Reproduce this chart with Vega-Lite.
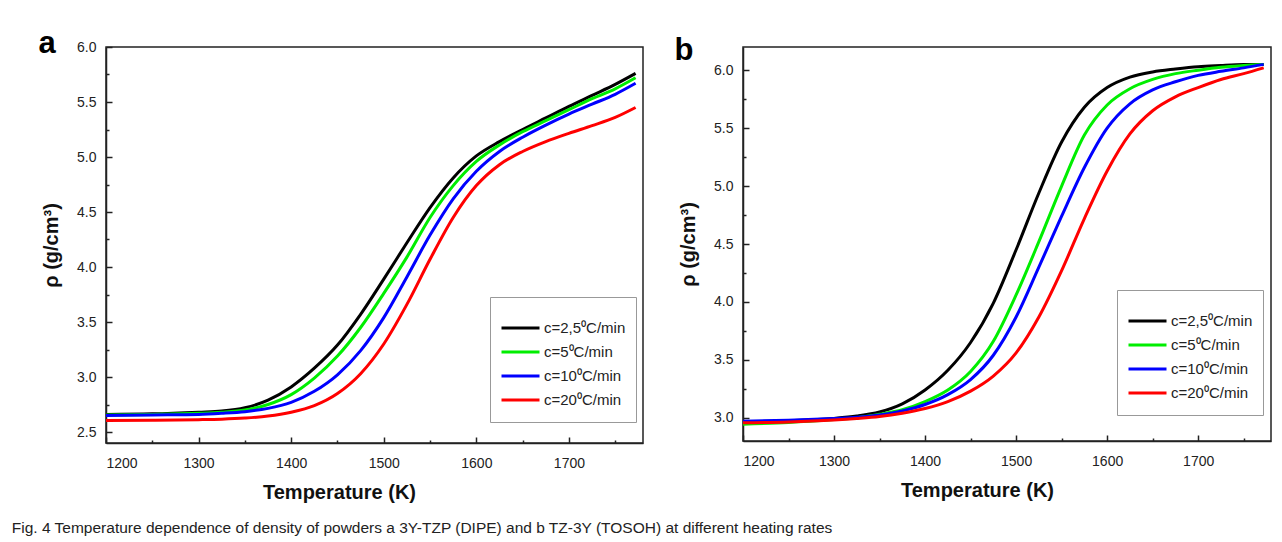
{
  "$schema": "https://vega.github.io/schema/vega-lite/v6.json",
  "background": "white",
  "padding": {"left": 11, "top": 27, "right": 5, "bottom": 5},
  "spacing": 29,
  "title": {
    "text": "Fig. 4 Temperature dependence of density of powders a 3Y-TZP (DIPE) and b TZ-3Y (TOSOH) at different heating rates",
    "orient": "bottom", "anchor": "start", "frame": "bounds",
    "font": "Liberation Sans", "fontSize": 15.5, "fontWeight": "normal",
    "color": "#222", "offset": 18, "dx": -26
  },
  "datasets": {
    "a": [
      {"T":1200,"rho":2.66,"c":"c=2,5\u2070C/min"},{"T":1250,"rho":2.665,"c":"c=2,5\u2070C/min"},{"T":1300,"rho":2.68,"c":"c=2,5\u2070C/min"},{"T":1325,"rho":2.69,"c":"c=2,5\u2070C/min"},{"T":1350,"rho":2.72,"c":"c=2,5\u2070C/min"},{"T":1375,"rho":2.79,"c":"c=2,5\u2070C/min"},{"T":1400,"rho":2.91,"c":"c=2,5\u2070C/min"},{"T":1425,"rho":3.08,"c":"c=2,5\u2070C/min"},{"T":1450,"rho":3.29,"c":"c=2,5\u2070C/min"},{"T":1475,"rho":3.57,"c":"c=2,5\u2070C/min"},{"T":1500,"rho":3.89,"c":"c=2,5\u2070C/min"},{"T":1525,"rho":4.22,"c":"c=2,5\u2070C/min"},{"T":1550,"rho":4.54,"c":"c=2,5\u2070C/min"},{"T":1575,"rho":4.81,"c":"c=2,5\u2070C/min"},{"T":1600,"rho":5.01,"c":"c=2,5\u2070C/min"},{"T":1625,"rho":5.14,"c":"c=2,5\u2070C/min"},{"T":1650,"rho":5.25,"c":"c=2,5\u2070C/min"},{"T":1675,"rho":5.355,"c":"c=2,5\u2070C/min"},{"T":1700,"rho":5.46,"c":"c=2,5\u2070C/min"},{"T":1725,"rho":5.56,"c":"c=2,5\u2070C/min"},{"T":1750,"rho":5.66,"c":"c=2,5\u2070C/min"},{"T":1772,"rho":5.76,"c":"c=2,5\u2070C/min"},
      {"T":1200,"rho":2.655,"c":"c=5\u2070C/min"},{"T":1250,"rho":2.66,"c":"c=5\u2070C/min"},{"T":1300,"rho":2.67,"c":"c=5\u2070C/min"},{"T":1325,"rho":2.68,"c":"c=5\u2070C/min"},{"T":1350,"rho":2.70,"c":"c=5\u2070C/min"},{"T":1375,"rho":2.75,"c":"c=5\u2070C/min"},{"T":1400,"rho":2.84,"c":"c=5\u2070C/min"},{"T":1425,"rho":2.99,"c":"c=5\u2070C/min"},{"T":1450,"rho":3.19,"c":"c=5\u2070C/min"},{"T":1475,"rho":3.45,"c":"c=5\u2070C/min"},{"T":1500,"rho":3.76,"c":"c=5\u2070C/min"},{"T":1525,"rho":4.09,"c":"c=5\u2070C/min"},{"T":1550,"rho":4.45,"c":"c=5\u2070C/min"},{"T":1575,"rho":4.74,"c":"c=5\u2070C/min"},{"T":1600,"rho":4.96,"c":"c=5\u2070C/min"},{"T":1625,"rho":5.11,"c":"c=5\u2070C/min"},{"T":1650,"rho":5.23,"c":"c=5\u2070C/min"},{"T":1675,"rho":5.33,"c":"c=5\u2070C/min"},{"T":1700,"rho":5.43,"c":"c=5\u2070C/min"},{"T":1725,"rho":5.53,"c":"c=5\u2070C/min"},{"T":1750,"rho":5.62,"c":"c=5\u2070C/min"},{"T":1772,"rho":5.72,"c":"c=5\u2070C/min"},
      {"T":1200,"rho":2.65,"c":"c=10\u2070C/min"},{"T":1250,"rho":2.655,"c":"c=10\u2070C/min"},{"T":1300,"rho":2.66,"c":"c=10\u2070C/min"},{"T":1325,"rho":2.67,"c":"c=10\u2070C/min"},{"T":1350,"rho":2.685,"c":"c=10\u2070C/min"},{"T":1375,"rho":2.715,"c":"c=10\u2070C/min"},{"T":1400,"rho":2.77,"c":"c=10\u2070C/min"},{"T":1425,"rho":2.87,"c":"c=10\u2070C/min"},{"T":1450,"rho":3.02,"c":"c=10\u2070C/min"},{"T":1475,"rho":3.24,"c":"c=10\u2070C/min"},{"T":1500,"rho":3.54,"c":"c=10\u2070C/min"},{"T":1525,"rho":3.91,"c":"c=10\u2070C/min"},{"T":1550,"rho":4.29,"c":"c=10\u2070C/min"},{"T":1575,"rho":4.62,"c":"c=10\u2070C/min"},{"T":1600,"rho":4.87,"c":"c=10\u2070C/min"},{"T":1625,"rho":5.05,"c":"c=10\u2070C/min"},{"T":1650,"rho":5.18,"c":"c=10\u2070C/min"},{"T":1675,"rho":5.29,"c":"c=10\u2070C/min"},{"T":1700,"rho":5.39,"c":"c=10\u2070C/min"},{"T":1725,"rho":5.48,"c":"c=10\u2070C/min"},{"T":1750,"rho":5.57,"c":"c=10\u2070C/min"},{"T":1772,"rho":5.67,"c":"c=10\u2070C/min"},
      {"T":1200,"rho":2.605,"c":"c=20\u2070C/min"},{"T":1250,"rho":2.607,"c":"c=20\u2070C/min"},{"T":1300,"rho":2.612,"c":"c=20\u2070C/min"},{"T":1325,"rho":2.617,"c":"c=20\u2070C/min"},{"T":1350,"rho":2.627,"c":"c=20\u2070C/min"},{"T":1375,"rho":2.645,"c":"c=20\u2070C/min"},{"T":1400,"rho":2.68,"c":"c=20\u2070C/min"},{"T":1425,"rho":2.74,"c":"c=20\u2070C/min"},{"T":1450,"rho":2.85,"c":"c=20\u2070C/min"},{"T":1475,"rho":3.03,"c":"c=20\u2070C/min"},{"T":1500,"rho":3.30,"c":"c=20\u2070C/min"},{"T":1525,"rho":3.66,"c":"c=20\u2070C/min"},{"T":1550,"rho":4.07,"c":"c=20\u2070C/min"},{"T":1575,"rho":4.45,"c":"c=20\u2070C/min"},{"T":1600,"rho":4.74,"c":"c=20\u2070C/min"},{"T":1625,"rho":4.93,"c":"c=20\u2070C/min"},{"T":1650,"rho":5.05,"c":"c=20\u2070C/min"},{"T":1675,"rho":5.14,"c":"c=20\u2070C/min"},{"T":1700,"rho":5.215,"c":"c=20\u2070C/min"},{"T":1725,"rho":5.285,"c":"c=20\u2070C/min"},{"T":1750,"rho":5.36,"c":"c=20\u2070C/min"},{"T":1772,"rho":5.45,"c":"c=20\u2070C/min"}
    ],
    "b": [
      {"T":1200,"rho":2.965,"c":"c=2,5\u2070C/min"},{"T":1250,"rho":2.975,"c":"c=2,5\u2070C/min"},{"T":1300,"rho":2.995,"c":"c=2,5\u2070C/min"},{"T":1325,"rho":3.015,"c":"c=2,5\u2070C/min"},{"T":1350,"rho":3.05,"c":"c=2,5\u2070C/min"},{"T":1375,"rho":3.12,"c":"c=2,5\u2070C/min"},{"T":1400,"rho":3.24,"c":"c=2,5\u2070C/min"},{"T":1425,"rho":3.41,"c":"c=2,5\u2070C/min"},{"T":1450,"rho":3.65,"c":"c=2,5\u2070C/min"},{"T":1475,"rho":3.99,"c":"c=2,5\u2070C/min"},{"T":1500,"rho":4.45,"c":"c=2,5\u2070C/min"},{"T":1525,"rho":4.94,"c":"c=2,5\u2070C/min"},{"T":1550,"rho":5.38,"c":"c=2,5\u2070C/min"},{"T":1575,"rho":5.68,"c":"c=2,5\u2070C/min"},{"T":1600,"rho":5.85,"c":"c=2,5\u2070C/min"},{"T":1625,"rho":5.94,"c":"c=2,5\u2070C/min"},{"T":1650,"rho":5.985,"c":"c=2,5\u2070C/min"},{"T":1675,"rho":6.01,"c":"c=2,5\u2070C/min"},{"T":1700,"rho":6.03,"c":"c=2,5\u2070C/min"},{"T":1725,"rho":6.04,"c":"c=2,5\u2070C/min"},{"T":1750,"rho":6.048,"c":"c=2,5\u2070C/min"},{"T":1772,"rho":6.05,"c":"c=2,5\u2070C/min"},
      {"T":1200,"rho":2.945,"c":"c=5\u2070C/min"},{"T":1250,"rho":2.96,"c":"c=5\u2070C/min"},{"T":1300,"rho":2.985,"c":"c=5\u2070C/min"},{"T":1325,"rho":3.0,"c":"c=5\u2070C/min"},{"T":1350,"rho":3.03,"c":"c=5\u2070C/min"},{"T":1375,"rho":3.07,"c":"c=5\u2070C/min"},{"T":1400,"rho":3.14,"c":"c=5\u2070C/min"},{"T":1425,"rho":3.24,"c":"c=5\u2070C/min"},{"T":1450,"rho":3.40,"c":"c=5\u2070C/min"},{"T":1475,"rho":3.66,"c":"c=5\u2070C/min"},{"T":1500,"rho":4.06,"c":"c=5\u2070C/min"},{"T":1525,"rho":4.52,"c":"c=5\u2070C/min"},{"T":1550,"rho":5.0,"c":"c=5\u2070C/min"},{"T":1575,"rho":5.44,"c":"c=5\u2070C/min"},{"T":1600,"rho":5.70,"c":"c=5\u2070C/min"},{"T":1625,"rho":5.84,"c":"c=5\u2070C/min"},{"T":1650,"rho":5.92,"c":"c=5\u2070C/min"},{"T":1675,"rho":5.97,"c":"c=5\u2070C/min"},{"T":1700,"rho":6.0,"c":"c=5\u2070C/min"},{"T":1725,"rho":6.025,"c":"c=5\u2070C/min"},{"T":1750,"rho":6.04,"c":"c=5\u2070C/min"},{"T":1772,"rho":6.05,"c":"c=5\u2070C/min"},
      {"T":1200,"rho":2.97,"c":"c=10\u2070C/min"},{"T":1250,"rho":2.98,"c":"c=10\u2070C/min"},{"T":1300,"rho":2.995,"c":"c=10\u2070C/min"},{"T":1325,"rho":3.005,"c":"c=10\u2070C/min"},{"T":1350,"rho":3.025,"c":"c=10\u2070C/min"},{"T":1375,"rho":3.06,"c":"c=10\u2070C/min"},{"T":1400,"rho":3.115,"c":"c=10\u2070C/min"},{"T":1425,"rho":3.20,"c":"c=10\u2070C/min"},{"T":1450,"rho":3.33,"c":"c=10\u2070C/min"},{"T":1475,"rho":3.54,"c":"c=10\u2070C/min"},{"T":1500,"rho":3.87,"c":"c=10\u2070C/min"},{"T":1525,"rho":4.30,"c":"c=10\u2070C/min"},{"T":1550,"rho":4.74,"c":"c=10\u2070C/min"},{"T":1575,"rho":5.16,"c":"c=10\u2070C/min"},{"T":1600,"rho":5.50,"c":"c=10\u2070C/min"},{"T":1625,"rho":5.71,"c":"c=10\u2070C/min"},{"T":1650,"rho":5.83,"c":"c=10\u2070C/min"},{"T":1675,"rho":5.90,"c":"c=10\u2070C/min"},{"T":1700,"rho":5.955,"c":"c=10\u2070C/min"},{"T":1725,"rho":5.99,"c":"c=10\u2070C/min"},{"T":1750,"rho":6.02,"c":"c=10\u2070C/min"},{"T":1772,"rho":6.05,"c":"c=10\u2070C/min"},
      {"T":1200,"rho":2.957,"c":"c=20\u2070C/min"},{"T":1250,"rho":2.965,"c":"c=20\u2070C/min"},{"T":1300,"rho":2.982,"c":"c=20\u2070C/min"},{"T":1325,"rho":2.995,"c":"c=20\u2070C/min"},{"T":1350,"rho":3.012,"c":"c=20\u2070C/min"},{"T":1375,"rho":3.04,"c":"c=20\u2070C/min"},{"T":1400,"rho":3.08,"c":"c=20\u2070C/min"},{"T":1425,"rho":3.14,"c":"c=20\u2070C/min"},{"T":1450,"rho":3.23,"c":"c=20\u2070C/min"},{"T":1475,"rho":3.36,"c":"c=20\u2070C/min"},{"T":1500,"rho":3.56,"c":"c=20\u2070C/min"},{"T":1525,"rho":3.87,"c":"c=20\u2070C/min"},{"T":1550,"rho":4.27,"c":"c=20\u2070C/min"},{"T":1575,"rho":4.72,"c":"c=20\u2070C/min"},{"T":1600,"rho":5.13,"c":"c=20\u2070C/min"},{"T":1625,"rho":5.45,"c":"c=20\u2070C/min"},{"T":1650,"rho":5.65,"c":"c=20\u2070C/min"},{"T":1675,"rho":5.77,"c":"c=20\u2070C/min"},{"T":1700,"rho":5.85,"c":"c=20\u2070C/min"},{"T":1725,"rho":5.92,"c":"c=20\u2070C/min"},{"T":1750,"rho":5.97,"c":"c=20\u2070C/min"},{"T":1772,"rho":6.02,"c":"c=20\u2070C/min"}
    ]
  },
  "hconcat": [
    {
      "title": {"text": "a", "anchor": "start", "frame": "bounds", "fontSize": 31, "fontWeight": "bold", "font": "Liberation Sans", "color": "#000", "offset": -20, "dx": -3},
      "width": 537,
      "height": 396,
      "data": {"name": "a"},
      "layer": [
        {
          "mark": {"type": "line", "strokeWidth": 3, "interpolate": "monotone"},
          "encoding": {
            "x": {"field": "T", "type": "quantitative", "scale": {"domain": [1200, 1780], "nice": false, "zero": false},
                  "axis": {"orient": "bottom", "values": [1200, 1300, 1400, 1500, 1600, 1700], "format": "d", "tickSize": -6, "labelPadding": 19, "title": "Temperature (K)", "titlePadding": 12, "titleX": 233, "titleAlign": "center"}},
            "y": {"field": "rho", "type": "quantitative", "scale": {"domain": [2.4, 6.0], "nice": false, "zero": false},
                  "axis": {"orient": "left", "values": [2.5, 3.0, 3.5, 4.0, 4.5, 5.0, 5.5, 6.0], "format": ".1f", "tickSize": -6, "labelPadding": 16, "title": "\u03c1 (g/cm\u00b3)", "titlePadding": 15}},
            "color": {"field": "c", "type": "nominal", "sort": null,
                      "scale": {"domain": ["c=2,5\u2070C/min", "c=5\u2070C/min", "c=10\u2070C/min", "c=20\u2070C/min"], "range": ["#000000", "#00ee00", "#0000ff", "#ff0000"]},
                      "legend": {"title": " ", "orient": "none", "legendX": 384, "legendY": 250}}
          }
        },
        {
          "mark": {"type": "point", "opacity": 0},
          "encoding": {
            "x": {"field": "T", "type": "quantitative",
                  "axis": {"orient": "bottom", "values": [1250, 1350, 1450, 1550, 1650, 1750], "labels": false, "domain": false, "tickSize": -3, "title": null}},
            "y": {"field": "rho", "type": "quantitative",
                  "axis": {"orient": "left", "values": [2.75, 3.25, 3.75, 4.25, 4.75, 5.25, 5.75], "labels": false, "domain": false, "tickSize": -3, "title": null}}
          }
        }
      ],
      "resolve": {"axis": {"x": "independent", "y": "independent"}}
    },
    {
      "title": {"text": "b", "anchor": "start", "frame": "bounds", "fontSize": 31, "fontWeight": "bold", "font": "Liberation Sans", "color": "#000", "offset": -20, "dx": -4},
      "width": 528,
      "height": 394,
      "data": {"name": "b"},
      "layer": [
        {
          "mark": {"type": "line", "strokeWidth": 3, "interpolate": "monotone"},
          "encoding": {
            "x": {"field": "T", "type": "quantitative", "scale": {"domain": [1200, 1780], "nice": false, "zero": false},
                  "axis": {"orient": "bottom", "values": [1200, 1300, 1400, 1500, 1600, 1700], "format": "d", "tickSize": -6, "labelPadding": 19, "title": "Temperature (K)", "titlePadding": 12, "titleX": 234, "titleAlign": "center"}},
            "y": {"field": "rho", "type": "quantitative", "scale": {"domain": [2.8, 6.2], "nice": false, "zero": false},
                  "axis": {"orient": "left", "values": [3.0, 3.5, 4.0, 4.5, 5.0, 5.5, 6.0], "format": ".1f", "tickSize": -6, "labelPadding": 16, "title": "\u03c1 (g/cm\u00b3)", "titlePadding": 15}},
            "color": {"field": "c", "type": "nominal", "sort": null,
                      "scale": {"domain": ["c=2,5\u2070C/min", "c=5\u2070C/min", "c=10\u2070C/min", "c=20\u2070C/min"], "range": ["#000000", "#00ee00", "#0000ff", "#ff0000"]},
                      "legend": {"title": " ", "orient": "none", "legendX": 374, "legendY": 243}}
          }
        },
        {
          "mark": {"type": "point", "opacity": 0},
          "encoding": {
            "x": {"field": "T", "type": "quantitative",
                  "axis": {"orient": "bottom", "values": [1250, 1350, 1450, 1550, 1650, 1750], "labels": false, "domain": false, "tickSize": -3, "title": null}},
            "y": {"field": "rho", "type": "quantitative",
                  "axis": {"orient": "left", "values": [3.25, 3.75, 4.25, 4.75, 5.25, 5.75], "labels": false, "domain": false, "tickSize": -3, "title": null}}
          }
        }
      ],
      "resolve": {"axis": {"x": "independent", "y": "independent"}}
    }
  ],
  "resolve": {"scale": {"color": "independent"}, "legend": {"color": "independent"}},
  "config": {
    "view": {"stroke": "#222", "strokeWidth": 1.5},
    "font": "Liberation Sans",
    "axis": {
      "labelFont": "Liberation Sans", "labelFontSize": 14, "labelColor": "#222",
      "titleFont": "Liberation Sans", "titleFontSize": 20, "titleFontWeight": "bold", "titleColor": "#111",
      "domainColor": "#222", "domainWidth": 1.5, "tickColor": "#222", "tickWidth": 1.5, "grid": false
    },
    "legend": {
      "strokeColor": "#999", "fillColor": "white", "padding": 10,
      "titleFontSize": 6, "titlePadding": 3,
      "symbolType": "stroke", "symbolSize": 1444, "symbolStrokeWidth": 3, "clipHeight": 24, "rowPadding": 0,
      "labelFont": "Liberation Sans", "labelFontSize": 15, "labelColor": "#222", "labelOffset": 3
    }
  }
}
